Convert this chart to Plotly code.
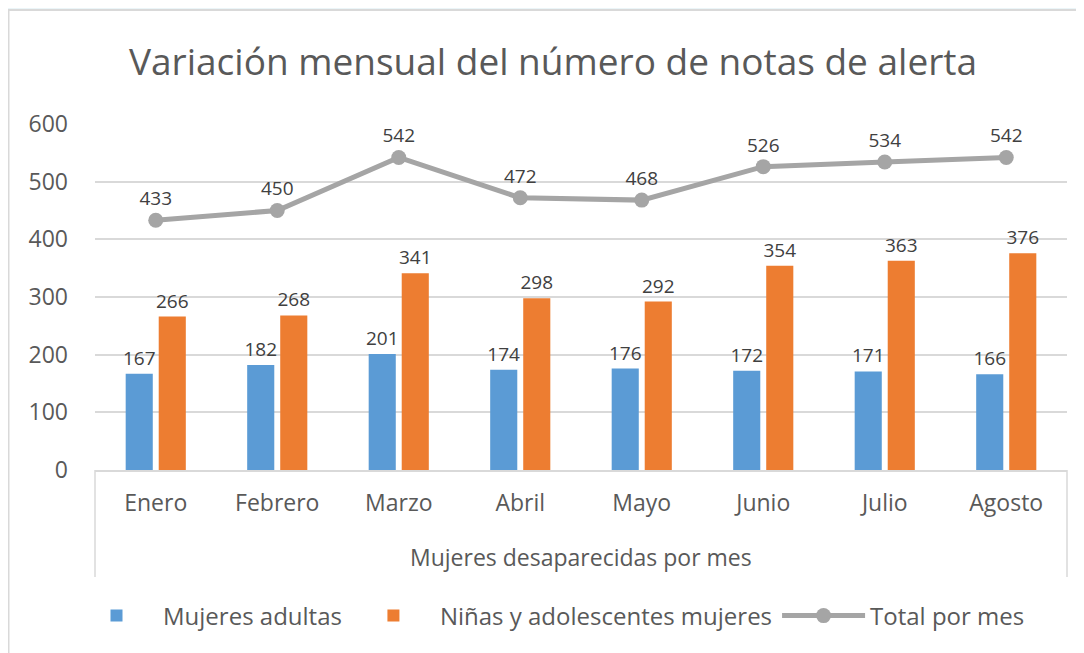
import plotly.graph_objects as go

months = ["Enero", "Febrero", "Marzo", "Abril", "Mayo", "Junio", "Julio", "Agosto"]
adultas = [167, 182, 201, 174, 176, 172, 171, 166]
ninas = [266, 268, 341, 298, 292, 354, 363, 376]
total = [433, 450, 542, 472, 468, 526, 534, 542]
y_ticks = [0, 100, 200, 300, 400, 500, 600]

# page body has an 8px default margin; work in screen pixels and convert
OFF = 8
W, H = 1084 - OFF, 653 - OFF
SL, SR, ST, SB = 95, 1067, 124, 577          # plot box in screen px
L, R, T, B = SL - OFF, (W + OFF) - SR, ST - OFF, (H + OFF) - SB
PW, PH = SR - SL, SB - ST

def px_x(x):
    return (x - SL) / PW

def px_y(y):
    return (SB - y) / PH

ydom0 = px_y(470)
FONT = "Open Sans"
label_color = "#404040"
axis_color = "#595959"
LBL = 19
AX = 23

fig = go.Figure()
fig.add_trace(go.Bar(
    x=months, y=adultas, name="Mujeres adultas",
    marker=dict(color="#5B9BD5", line=dict(width=0)),
    text=[str(v) for v in adultas], textposition="outside", constraintext="none",
    textfont=dict(size=LBL, color=label_color, family=FONT), cliponaxis=False,
))
fig.add_trace(go.Bar(
    x=months, y=ninas, name="Niñas y adolescentes mujeres",
    marker=dict(color="#ED7D31", line=dict(width=0)),
    text=[str(v) for v in ninas], textposition="outside", constraintext="none",
    textfont=dict(size=LBL, color=label_color, family=FONT), cliponaxis=False,
))
fig.add_trace(go.Scatter(
    x=months, y=total, name="Total por mes", mode="lines+markers+text",
    line=dict(color="#A5A5A5", width=5),
    marker=dict(color="#A5A5A5", size=15),
    text=[str(v) for v in total], textposition="top center",
    textfont=dict(size=LBL, color=label_color, family=FONT), cliponaxis=False,
))

shapes = [
    dict(type="rect", xref="paper", yref="paper",
         x0=px_x(8.5), x1=px_x(1120), y0=px_y(700), y1=px_y(10),
         fillcolor="white", line=dict(color="#D9D9D9", width=2), layer="below"),
    dict(type="line", xref="paper", yref="paper", x0=0, x1=0, y0=0, y1=ydom0,
         line=dict(color="#D9D9D9", width=1.5)),
    dict(type="line", xref="paper", yref="paper", x0=1, x1=1, y0=0, y1=ydom0,
         line=dict(color="#D9D9D9", width=1.5)),
]

annotations = [
    dict(text="Mujeres desaparecidas por mes", xref="paper", yref="paper",
         x=0.5, y=px_y(557), xanchor="center", yanchor="middle", showarrow=False,
         font=dict(size=AX, color=axis_color, family=FONT)),
]

fig.update_layout(
    width=W, height=H, autosize=False,
    margin=dict(l=L, r=R, t=T, b=B, pad=0),
    paper_bgcolor="#EBF5F8", plot_bgcolor="rgba(0,0,0,0)",
    font=dict(family=FONT, color=axis_color),
    title=dict(text="Variación mensual del número de notas de alerta",
               x=(553 - OFF) / W, xanchor="center", y=1 - (62 - OFF) / H, yanchor="middle",
               font=dict(size=37, color=axis_color, family=FONT)),
    barmode="group", bargap=0.456, bargroupgap=0.18,
    xaxis=dict(showgrid=False, showline=True, linecolor="#D9D9D9", linewidth=1.5,
               ticks="", tickfont=dict(size=AX, color=axis_color, family=FONT),
               ticklabelstandoff=12),
    yaxis=dict(domain=[ydom0, 1], range=[0, 600], tickvals=y_ticks,
               showgrid=True, gridcolor="#D9D9D9", gridwidth=1.5,
               zeroline=False, showline=False, ticks="",
               tickfont=dict(size=AX, color=axis_color, family=FONT),
               ticklabelstandoff=26),
    legend=dict(orientation="h", x=px_x(70), xanchor="left", y=px_y(616), yanchor="middle",
                font=dict(size=24, color=axis_color, family=FONT),
                bgcolor="rgba(0,0,0,0)", itemwidth=83, traceorder="normal"),
    shapes=shapes, annotations=annotations,
)

fig.write_html("out.html")
